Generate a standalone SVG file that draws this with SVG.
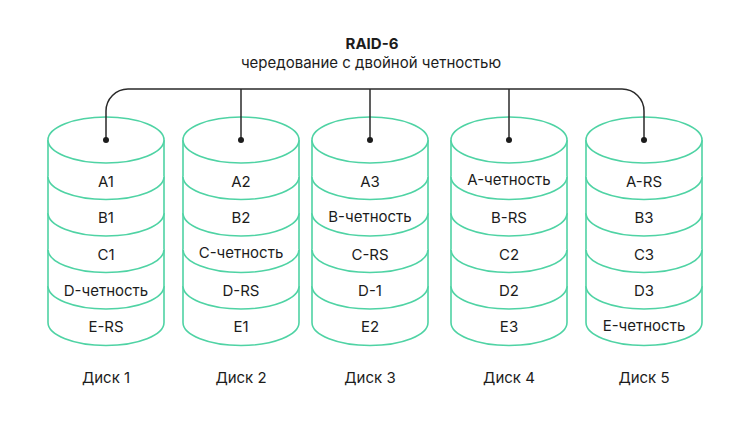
<svg xmlns="http://www.w3.org/2000/svg" width="750" height="421" viewBox="0 0 750 421">
<defs>
<style>
.t{font-family:Inter,"Liberation Sans",sans-serif;fill:#1c1c1c;text-anchor:middle;dominant-baseline:central}
.s{font-size:15px}
.h{font-size:15px;font-weight:700}
.cyl{fill:#fff;stroke:#4fd3a4;stroke-width:1.6}
.ln{fill:none;stroke:#2a2a2a;stroke-width:1.5}
</style>
<g id="cylshape">
<path class="cyl" d="M-58,0 V182.5 A58,23 0 0 0 58,182.5 V0"/>
<ellipse class="cyl" cx="0" cy="0" rx="58" ry="23"/>
<path class="cyl" d="M-58,36.5 A58,23 0 0 0 58,36.5"/>
<path class="cyl" d="M-58,73 A58,23 0 0 0 58,73"/>
<path class="cyl" d="M-58,109.5 A58,23 0 0 0 58,109.5"/>
<path class="cyl" d="M-58,146 A58,23 0 0 0 58,146"/>
</g>
</defs>
<rect width="750" height="421" fill="#fff"/>
<g id="title">
<text class="t h" x="372" y="43">RAID-6</text>
<text class="t s" x="371" y="62">чередование с двойной четностью</text>
</g>
<g id="disk1">
<use href="#cylshape" x="106" y="140"/>
<text class="t s" x="106" y="181">A1</text>
<text class="t s" x="106" y="217">B1</text>
<text class="t s" x="106" y="254">C1</text>
<text class="t s" x="106" y="290">D-четность</text>
<text class="t s" x="106" y="326">E-RS</text>
<text class="t s" x="106" y="377">Диск 1</text>
</g>
<g id="disk2">
<use href="#cylshape" x="241" y="140"/>
<text class="t s" x="241" y="181">A2</text>
<text class="t s" x="241" y="217">B2</text>
<text class="t s" x="241" y="252">C-четность</text>
<text class="t s" x="241" y="290">D-RS</text>
<text class="t s" x="241" y="326">E1</text>
<text class="t s" x="241" y="377">Диск 2</text>
</g>
<g id="disk3">
<use href="#cylshape" x="370" y="140"/>
<text class="t s" x="370" y="181">A3</text>
<text class="t s" x="370" y="216">B-четность</text>
<text class="t s" x="370" y="254">C-RS</text>
<text class="t s" x="370" y="290">D-1</text>
<text class="t s" x="370" y="326">E2</text>
<text class="t s" x="370" y="377">Диск 3</text>
</g>
<g id="disk4">
<use href="#cylshape" x="509" y="140"/>
<text class="t s" x="509" y="179">A-четность</text>
<text class="t s" x="509" y="217">B-RS</text>
<text class="t s" x="509" y="254">C2</text>
<text class="t s" x="509" y="290">D2</text>
<text class="t s" x="509" y="326">E3</text>
<text class="t s" x="509" y="377">Диск 4</text>
</g>
<g id="disk5">
<use href="#cylshape" x="644" y="140"/>
<text class="t s" x="644" y="181">A-RS</text>
<text class="t s" x="644" y="217">B3</text>
<text class="t s" x="644" y="254">C3</text>
<text class="t s" x="644" y="290">D3</text>
<text class="t s" x="644" y="325">E-четность</text>
<text class="t s" x="644" y="377">Диск 5</text>
</g>
<g id="connectors">
<path class="ln" d="M106,140 V111 A22,22 0 0 1 128,89 H622 A22,22 0 0 1 644,111 V140"/>
<path class="ln" d="M241,89 V140"/>
<path class="ln" d="M370,89 V140"/>
<path class="ln" d="M509,89 V140"/>
<g fill="#1c1c1c">
<circle cx="106" cy="140" r="3"/>
<circle cx="241" cy="140" r="3"/>
<circle cx="370" cy="140" r="3"/>
<circle cx="509" cy="140" r="3"/>
<circle cx="644" cy="140" r="3"/>
</g>
</g>
</svg>
